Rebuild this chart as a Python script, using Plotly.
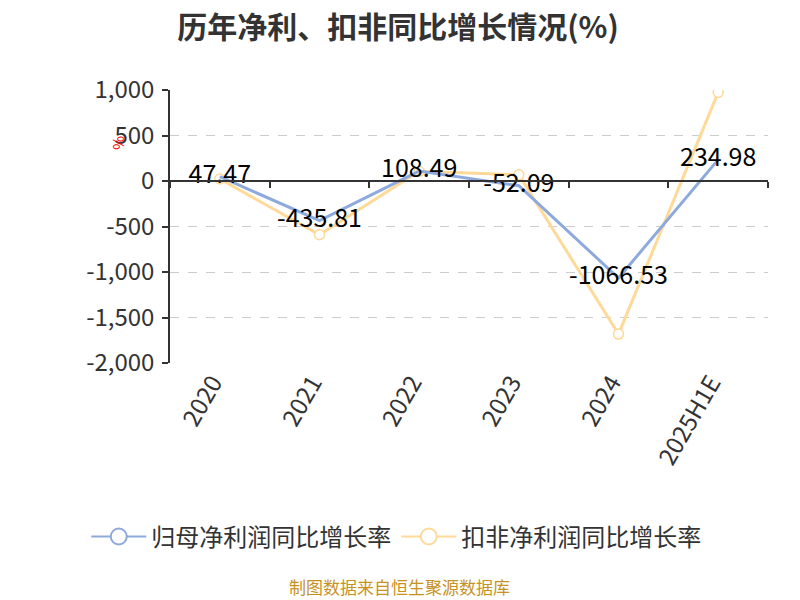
import plotly.graph_objects as go

categories = ["2020", "2021", "2022", "2023", "2024", "2025H1E"]
net_profit_growth = [47.47, -435.81, 108.49, -52.09, -1066.53, 234.98]
deducted_growth = [22, -591, 106, 69, -1682, 974]
net_labels = ["47.47", "-435.81", "108.49", "-52.09", "-1066.53", "234.98"]
y_ticks = [1000, 500, 0, -500, -1000, -1500, -2000]
y_tick_labels = ["1,000", "500", "0", "-500", "-1,000", "-1,500", "-2,000"]

BLUE = "#8eaadc"
YELLOW = "#fed998"
FONT = "Noto Sans CJK SC"

fig = go.Figure()

# yellow series (扣非)
fig.add_trace(go.Scatter(
    x=categories, y=deducted_growth, name="扣非净利润同比增长率",
    mode="lines+markers",
    line=dict(color=YELLOW, width=3),
    marker=dict(symbol="circle", size=10, color="white", line=dict(color=YELLOW, width=1.5)),
    showlegend=False, hoverinfo="skip",
))
# blue series (归母)
fig.add_trace(go.Scatter(
    x=categories, y=net_profit_growth, name="归母净利润同比增长率",
    mode="lines+text", text=net_labels, textposition="middle center",
    textfont=dict(family=FONT, size=25, color="#000000"),
    line=dict(color=BLUE, width=3),
    showlegend=False, hoverinfo="skip",
))
# legend entries
for nm, col in [("归母净利润同比增长率", BLUE), ("扣非净利润同比增长率", YELLOW)]:
    fig.add_trace(go.Scatter(
        x=[None], y=[None], name=nm, mode="lines+markers",
        line=dict(color=col, width=2),
        marker=dict(symbol="circle", size=20, color="white", line=dict(color=col, width=2)),
    ))
# dummy trace to carry the zero-positioned axis with boundary ticks
fig.add_trace(go.Scatter(
    x=categories, y=net_profit_growth, xaxis="x2", mode="lines",
    opacity=0, showlegend=False, hoverinfo="skip",
))

fig.update_layout(
    width=800, height=600,
    paper_bgcolor="white", plot_bgcolor="white",
    margin=dict(l=162, r=40, t=82, b=245),
    font=dict(family=FONT, color="#333333"),
    title=dict(text="<b>历年净利、扣非同比增长情况(%)</b>", x=0.4875, xanchor="center",
               y=0.968, yanchor="middle", font=dict(family=FONT, size=30, color="#333333")),
    xaxis=dict(
        type="category", range=[-0.5, 5.5], showline=False, showgrid=False,
        ticks="", tickangle=-60, tickfont=dict(family=FONT, size=24, color="#333333"),
        ticklabelshift=-7, zeroline=False,
    ),
    xaxis2=dict(
        type="category", range=[-0.5, 5.5], overlaying="x", anchor="free",
        position=2 / 3, side="bottom", showline=True, linecolor="#333333", linewidth=1.5,
        ticks="outside", tickson="boundaries", ticklen=6, tickwidth=1.5, tickcolor="#333333",
        showticklabels=False, showgrid=False, zeroline=False,
    ),
    yaxis=dict(
        range=[-2000, 1000], tickvals=y_ticks, ticktext=y_tick_labels,
        showline=True, linecolor="#333333", linewidth=1.5,
        ticks="outside", ticklen=6, tickwidth=1.5, tickcolor="#333333",
        tickfont=dict(family=FONT, size=24, color="#333333"), ticklabelstandoff=3,
        showgrid=True, gridcolor="#cccccc", griddash="dash", gridwidth=1.2,
        zeroline=False,
    ),
    legend=dict(orientation="h", x=-0.14, xanchor="left", y=-0.637, yanchor="middle",
                font=dict(family=FONT, size=24, color="#333333"), itemwidth=55,
                bgcolor="rgba(0,0,0,0)"),
    annotations=[
        dict(text="%", xref="paper", yref="paper", x=-0.1087, y=0.842, showarrow=False,
             textangle=-90, font=dict(family=FONT, size=15, color="#ff0000")),
        dict(text="制图数据来自恒生聚源数据库", xref="paper", yref="paper", x=0.3846, y=-0.82,
             xanchor="center", yanchor="middle", showarrow=False,
             font=dict(family=FONT, size=17, color="#c8921e")),
    ],
)

fig.write_html("out.html")
